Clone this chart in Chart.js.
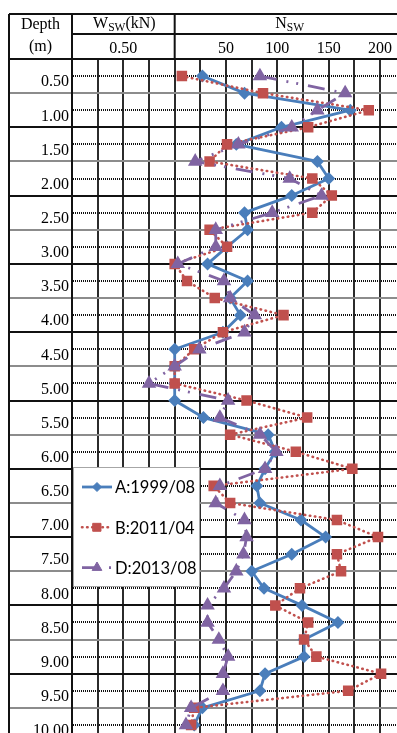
<!DOCTYPE html>
<html>
<head>
<meta charset="utf-8">
<title>Nsw</title>
<script src="https://cdn.jsdelivr.net/npm/chart.js@4.4.1/dist/chart.umd.min.js"></script>
<style>
  html, body { margin: 0; padding: 0; background: #fff; overflow: hidden; }
  canvas { display: block; }
</style>
</head>
<body>
<!-- a tabela continua abaixo da janela, até 10 m -->
<canvas id="grafico" width="397" height="742"></canvas>
<script>
// profundidades das leituras (m)
const depths = [0.25, 0.50, 0.75, 1.00, 1.25, 1.50, 1.75, 2.00, 2.25, 2.50,
  2.75, 3.00, 3.25, 3.50, 3.75, 4.00, 4.25, 4.50, 4.75, 5.00,
  5.25, 5.50, 5.75, 6.00, 6.25, 6.50, 6.75, 7.00, 7.25, 7.50,
  7.75, 8.00, 8.25, 8.50, 8.75, 9.00, 9.25, 9.50, 9.75];

// Nsw por ensaio; valor negativo = carga Wsw abaixo de 1 kN (coluna da esquerda)
const nswA = [27, 68, 171, 104, 60, 139, 150, 114, 68, 71,
  51, 32, 71, 54, 64, 47, 0, 0, 0, 0,
  28, 91, 98, 88, 80, 83, 123, 147, 114, 75,
  87, 124, 159, 126, 126, 88, 83, 27, 19];
const nswB = [7, 86, 189, 130, 51, 34, 134, 153, 134, 34,
  51, 0, 12, 39, 106, 47, 19, 0, 0, 70,
  129, 54, 118, 173, 38, 54, 158, 198, 158, 162,
  122, 98, 130, 126, 138, 201, 169, 19, 16];
const nswD = [83, 166, 139, 114, 62, 20, 112, 143, 95, 40,
  40, 3, 48, 54, 78, 68, 24, 0, -25, 52,
  44, 83, 99, 88, 44, 40, 68, 70, 67, 60,
  48, 32, 32, 43, 52, 47, 47, 16, 11];

const seriesNames = ["A:1999/08", "B:2011/04", "D:2013/08"];
const nswTicks = [50, 100, 150, 200];
const wswTicks = [0.5];
const depthLabelStep = 0.5;

const SERIF = "'Liberation Serif', 'Times New Roman', serif";

function pontos(valores) {
  return depths.map((d, i) => ({ x: valores[i], y: d }));
}

// tipo de linha da tabela: metro cheio, meio metro ou quarto
function tipoLinha(v) {
  const q = Math.round(v * 4);
  if (Math.abs(v * 4 - q) > 1e-6) return null;
  if (q % 4 === 0) return "metro";
  if (q % 2 === 0) return "meio";
  return "quarto";
}

function textoComIndice(ctx, partes, cx, y, tam) {
  let largura = 0;
  partes.forEach(([t, sub]) => {
    ctx.font = (sub ? tam * 0.72 : tam) + "px " + SERIF;
    largura += ctx.measureText(t).width;
  });
  let x = cx - largura / 2;
  partes.forEach(([t, sub]) => {
    ctx.font = (sub ? tam * 0.72 : tam) + "px " + SERIF;
    ctx.fillText(t, x, sub ? y + 4 : y);
    x += ctx.measureText(t).width;
  });
}

const cabecalho = {
  id: "cabecalho",
  afterDraw(chart) {
    const ctx = chart.ctx;
    const area = chart.chartArea;
    const xZero = chart.scales.x.getPixelForValue(0);
    const esq = chart.scales.rows.left;
    const W = chart.width;
    ctx.save();
    ctx.strokeStyle = "#111";
    ctx.lineWidth = 2;
    ctx.beginPath();
    ctx.moveTo(esq, 14); ctx.lineTo(W, 14);
    ctx.moveTo(esq, 14); ctx.lineTo(esq, chart.height);
    ctx.moveTo(area.left, 14); ctx.lineTo(area.left, chart.height);
    ctx.moveTo(xZero, 14); ctx.lineTo(xZero, area.top);
    ctx.moveTo(area.left, 34); ctx.lineTo(W, 34);
    ctx.moveTo(esq, area.top); ctx.lineTo(W, area.top);
    ctx.stroke();

    ctx.fillStyle = "#000";
    ctx.textBaseline = "middle";
    ctx.textAlign = "left";
    const cxDepth = (esq + area.left) / 2;
    textoComIndice(ctx, [["Depth", false]], cxDepth, 25, 16);
    textoComIndice(ctx, [["(m)", false]], cxDepth, 47, 16);
    textoComIndice(ctx, [["W", false], ["SW", true], ["(kN)", false]], (area.left + xZero) / 2 + 1, 24, 16);
    textoComIndice(ctx, [["N", false], ["SW", true]], xZero + 115, 24, 16);
    ctx.restore();
  }
};

const legenda = {
  id: "legenda",
  afterDatasetsDraw(chart) {
    const ctx = chart.ctx;
    const caixa = { x: 73, y: 467, w: 127, h: 120 };
    ctx.save();
    ctx.fillStyle = "#fff";
    ctx.fillRect(caixa.x, caixa.y, caixa.w, caixa.h);
    ctx.strokeStyle = "#a6a6a6";
    ctx.lineWidth = 1;
    ctx.strokeRect(caixa.x + 0.5, caixa.y + 0.5, caixa.w - 1, caixa.h - 1);
    chart.data.datasets.forEach((ds, i) => {
      const y = caixa.y + 20 + i * 40.3;
      ctx.strokeStyle = ds.borderColor;
      ctx.lineWidth = ds.borderWidth;
      ctx.lineCap = ds.borderCapStyle || "butt";
      ctx.setLineDash(ds.borderDash || []);
      ctx.beginPath();
      ctx.moveTo(caixa.x + 9, y);
      ctx.lineTo(caixa.x + 39, y);
      ctx.stroke();
      ctx.setLineDash([]);
      ctx.fillStyle = ds.pointBackgroundColor;
      ctx.strokeStyle = ds.pointBorderColor;
      ctx.lineWidth = 1;
      Chart.helpers.drawPoint(ctx, { pointStyle: ds.pointStyle, radius: ds.pointRadius, borderWidth: 1, rotation: 0 }, caixa.x + 24, y);
      ctx.fillStyle = "#000";
      ctx.font = "16.5px Lato, 'Open Sans', sans-serif";
      ctx.textAlign = "left";
      ctx.textBaseline = "middle";
      ctx.fillText(ds.label, caixa.x + 42, y + 1);
    });
    ctx.restore();
  }
};

const cores = { A: "#4a7ebb", B: "#c0504d", D: "#8064a2" };

new Chart(document.getElementById("grafico"), {
  type: "scatter",
  data: {
    datasets: [
      {
        label: seriesNames[0], data: pontos(nswA), showLine: true, order: 2,
        borderColor: cores.A, borderWidth: 2.8, borderJoinStyle: "round",
        pointStyle: "rectRot", pointRadius: 4.5,
        pointBackgroundColor: cores.A, pointBorderColor: cores.A
      },
      {
        label: seriesNames[1], data: pontos(nswB), showLine: true, order: 1,
        borderColor: cores.B, borderWidth: 2.6, borderDash: [0.5, 4.6], borderCapStyle: "round",
        pointStyle: "rect", pointRadius: 5.6,
        pointBackgroundColor: cores.B, pointBorderColor: cores.B
      },
      {
        label: seriesNames[2], data: pontos(nswD), showLine: true, order: 0,
        borderColor: cores.D, borderWidth: 2.8, borderDash: [17, 10, 2, 8, 2, 10],
        pointStyle: "triangle", pointRadius: 5.6,
        pointBackgroundColor: cores.D, pointBorderColor: cores.D
      }
    ]
  },
  options: {
    responsive: false,
    animation: false,
    layout: { autoPadding: false, padding: { left: 9, top: 34, right: 0, bottom: 0 } },
    plugins: { legend: { display: false }, tooltip: { enabled: false } },
    scales: {
      x: {
        type: "linear", position: "top", min: -100, max: 216.5,
        afterFit: (s) => { s.height = 25; },
        ticks: {
          stepSize: 25, includeBounds: false, autoSkip: false, maxRotation: 0, padding: 1,
          color: "#000", font: { family: SERIF, size: 16 },
          callback: (v) => {
            if (nswTicks.includes(v)) return String(v);
            const w = 1 + v / 100;
            if (v < 0 && wswTicks.some((t) => Math.abs(t - w) < 1e-6)) return w.toFixed(2);
            return "";
          }
        },
        grid: {
          drawTicks: false,
          color: "#2b2b2b",
          lineWidth: 2
        },
        border: { display: false }
      },
      rows: {
        type: "linear", position: "left", reverse: true, min: 0, max: 10,
        afterFit: (s) => { s.width = 63; },
        ticks: {
          stepSize: 0.25, autoSkip: false, padding: -60, labelOffset: -11,
          color: "#000", font: { family: SERIF, size: 16 },
          callback: (v) => {
            const k = v / depthLabelStep;
            return v > 0 && Math.abs(k - Math.round(k)) < 1e-6 ? v.toFixed(2) : "";
          }
        },
        grid: {
          drawTicks: true,
          tickLength: 63,
          color: (c) => {
            const t = tipoLinha(c.tick.value);
            return t === "meio" ? "#8c8c8c" : t ? "#111" : "rgba(0,0,0,0)";
          },
          lineWidth: 2,
          tickColor: (c) => {
            const t = tipoLinha(c.tick.value);
            return t === "metro" ? "#111" : t === "meio" ? "#8c8c8c" : "rgba(0,0,0,0)";
          },
          tickWidth: 2
        },
        border: {
          display: true, color: "#111", width: 2,
          dash: (c) => (c.tick && tipoLinha(c.tick.value) === "quarto" ? [1, 1] : [])
        }
      },
      y: { type: "linear", display: false, reverse: true, min: 0.02, max: 9.83 }
    }
  },
  plugins: [cabecalho, legenda]
});
</script>
</body>
</html>
